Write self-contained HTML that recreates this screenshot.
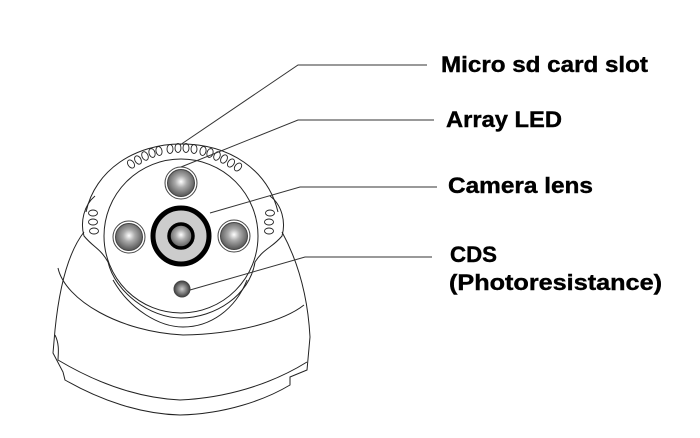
<!DOCTYPE html>
<html><head><style>body{margin:0;background:#fff}svg{display:block}</style></head>
<body>
<svg width="700" height="438" viewBox="0 0 700 438" xmlns="http://www.w3.org/2000/svg">
<defs>
<radialGradient id="led" cx="0.5" cy="0.45" r="0.55">
<stop offset="0" stop-color="#fff"/><stop offset="0.4" stop-color="#aaa"/><stop offset="1" stop-color="#555"/>
</radialGradient>
<radialGradient id="cds" cx="0.5" cy="0.5" r="0.55">
<stop offset="0" stop-color="#ccc"/><stop offset="1" stop-color="#333"/>
</radialGradient>
</defs>
<g fill="none" stroke="#222" stroke-width="1">
<!-- outer silhouette -->
<path d="M84,232 C70,250 60,280 55,330 L53,353 L63,372 L65,380 C100,400 140,414 180,415 C225,414 265,400 290,385 L290,377 L307,370 L310,337 C308,300 300,265 282,232"/>
<path d="M55,335 C60,345 58,355 58,360 C100,385 140,398 180,400 C225,398 270,385 307,362"/>
<path d="M58,268 C65,300 120,332 183,335 C240,334 285,320 304,305"/>
<!-- ears -->
<path d="M95,196 C84,205 80,222 84,236 C94,248 100,248 108,262 C115,292 150,318 181,318 C215,318 250,295 255,262 C264,248 272,248 282,236 C286,222 282,205 270,196"/>
<!-- outer ring -->
<path d="M86,212 C95,170 135,144 181,144 C230,144 268,170 278,212"/>
<circle cx="181" cy="236" r="77"/>
<!-- inner lower arcs -->
<path d="M113,280 C130,310 160,327 183,327 C210,327 235,310 247,280"/>
<!-- vent dimples -->
<g stroke-width="0.9">
<ellipse cx="131" cy="164" rx="3" ry="4.5" transform="rotate(-35 131 164)"/>
<ellipse cx="138" cy="160" rx="3" ry="4.5" transform="rotate(-30 138 160)"/>
<ellipse cx="145" cy="156" rx="3" ry="4.5" transform="rotate(-25 145 156)"/>
<ellipse cx="152" cy="153" rx="3" ry="4.5" transform="rotate(-18 152 153)"/>
<ellipse cx="159" cy="151" rx="3" ry="4.5" transform="rotate(-12 159 151)"/>
<ellipse cx="170" cy="149" rx="3" ry="4.5"/>
<ellipse cx="178" cy="148" rx="3" ry="4.5"/>
<ellipse cx="186" cy="148" rx="3" ry="4.5"/>
<ellipse cx="194" cy="149" rx="3" ry="4.5"/>
<ellipse cx="203" cy="151" rx="3" ry="4.5" transform="rotate(12 203 151)"/>
<ellipse cx="210" cy="153" rx="3" ry="4.5" transform="rotate(18 210 153)"/>
<ellipse cx="217" cy="156" rx="3" ry="4.5" transform="rotate(25 217 156)"/>
<ellipse cx="224" cy="159" rx="3" ry="4.5" transform="rotate(30 224 159)"/>
<ellipse cx="231" cy="163" rx="3" ry="4.5" transform="rotate(35 231 163)"/>
<ellipse cx="238" cy="167" rx="3" ry="4.5" transform="rotate(40 238 167)"/>
<ellipse cx="93" cy="213" rx="4.5" ry="3"/><ellipse cx="93" cy="222" rx="4.5" ry="3"/><ellipse cx="94" cy="231" rx="4.5" ry="3"/>
<ellipse cx="270" cy="213" rx="4.5" ry="3"/><ellipse cx="269" cy="222" rx="4.5" ry="3"/><ellipse cx="269" cy="231" rx="4.5" ry="3"/>
</g>
</g>
<!-- LEDs -->
<g stroke="#444" stroke-width="1">
<circle cx="181" cy="183" r="16" fill="#fff"/><circle cx="181" cy="183" r="13.5" fill="url(#led)"/>
<circle cx="129" cy="237" r="16" fill="#fff"/><circle cx="129" cy="237" r="13.5" fill="url(#led)"/>
<circle cx="234" cy="236" r="16" fill="#fff"/><circle cx="234" cy="236" r="13.5" fill="url(#led)"/>
<circle cx="182" cy="289" r="8" fill="url(#cds)"/>
</g>
<!-- camera lens -->
<circle cx="181" cy="236" r="28" fill="#ccc" stroke="#000" stroke-width="5"/>
<circle cx="181" cy="236" r="12" fill="url(#led)" stroke="#000" stroke-width="3.5"/>
<!-- leaders -->
<g fill="none" stroke="#333" stroke-width="1">
<polyline points="427,65 298,65 180,145"/>
<polyline points="434,120 298,120 181,167"/>
<polyline points="437,187 300,187 210,213"/>
<polyline points="432,257 305,257 190,290"/>
</g>
<g font-family="Liberation Sans, sans-serif" font-weight="bold" font-size="22" fill="#000" stroke="#000" stroke-width="0.4">
<text x="441" y="72" textLength="207" lengthAdjust="spacingAndGlyphs">Micro sd card slot</text>
<text x="446" y="127" textLength="116" lengthAdjust="spacingAndGlyphs">Array LED</text>
<text x="448" y="193" textLength="145" lengthAdjust="spacingAndGlyphs">Camera lens</text>
<text x="450" y="262" textLength="47" lengthAdjust="spacingAndGlyphs">CDS</text>
<text x="449" y="290" textLength="213" lengthAdjust="spacingAndGlyphs">(Photoresistance)</text>
</g>
</svg>
</body></html>
